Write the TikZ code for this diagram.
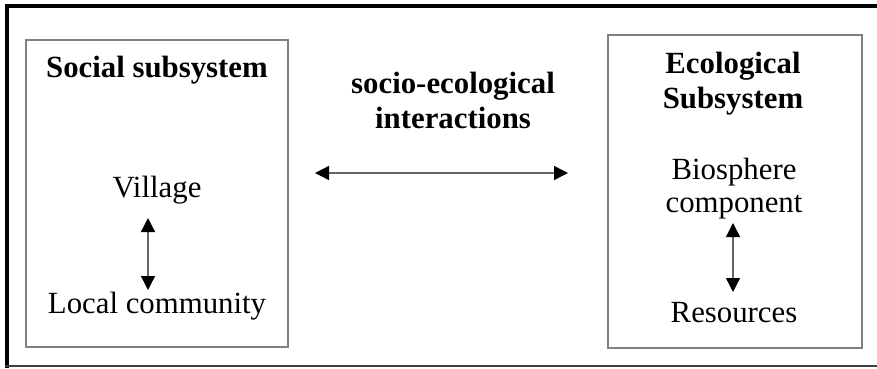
\documentclass[tikz,border=0pt]{standalone}
\usepackage{fontspec}
\setmainfont{Liberation Serif}
\usetikzlibrary{arrows.meta}
\begin{document}
\begin{tikzpicture}[x=1pt,y=-1pt,
  sysbox/.style={draw=black!50, line width=1.3pt, inner sep=0pt},
  heading/.style={font=\fontsize{30.8}{35}\selectfont\bfseries, align=center, inner sep=0pt, anchor=base},
  label/.style={font=\fontsize{30.8}{33}\selectfont, align=center, inner sep=0pt, anchor=base},
  link/.style={draw=black!60, line width=1.3pt,
    {Triangle[length=14pt,width=14pt,color=black]}-{Triangle[length=14pt,width=14pt,color=black]}}]
  \useasboundingbox (0,0) rectangle (877,368);
  % outer frame (open on the right)
  \draw[line width=4pt] (880,6) -- (7,6) -- (7,368);
  \draw[black!75, line width=2pt] (5,366) -- (880,366);
  % the two subsystems
  \node[sysbox, minimum width=262pt, minimum height=307pt] (social) at (157,193.5) {};
  \node[sysbox, minimum width=254pt, minimum height=313pt] (eco) at (735,191.5) {};
  % texts (multi-line nodes sit on the baseline of their last line)
  \node[heading] (socialtitle) at (157,77) {Social subsystem};
  \node[heading] (ecotitle) at (733,108) {Ecological\\Subsystem};
  \node[heading] (interact) at (453,128) {socio-ecological\\interactions};
  \node[label] (village) at (157,197) {Village};
  \node[label] (local) at (157,313) {Local community};
  \node[label] (bio) at (734,212) {Biosphere\\component};
  \node[label] (res) at (734,322) {Resources};
  % arrow end points
  \coordinate (hL) at (315,173);
  \coordinate (hR) at (568,173);
  \coordinate (vL1) at (148,218);
  \coordinate (vL2) at (148,290);
  \coordinate (vR1) at (733,223);
  \coordinate (vR2) at (733,292);
  \draw[link] (hL) -- (hR);
  \draw[link] (vL1) -- (vL2);
  \draw[link] (vR1) -- (vR2);
\end{tikzpicture}
\end{document}
